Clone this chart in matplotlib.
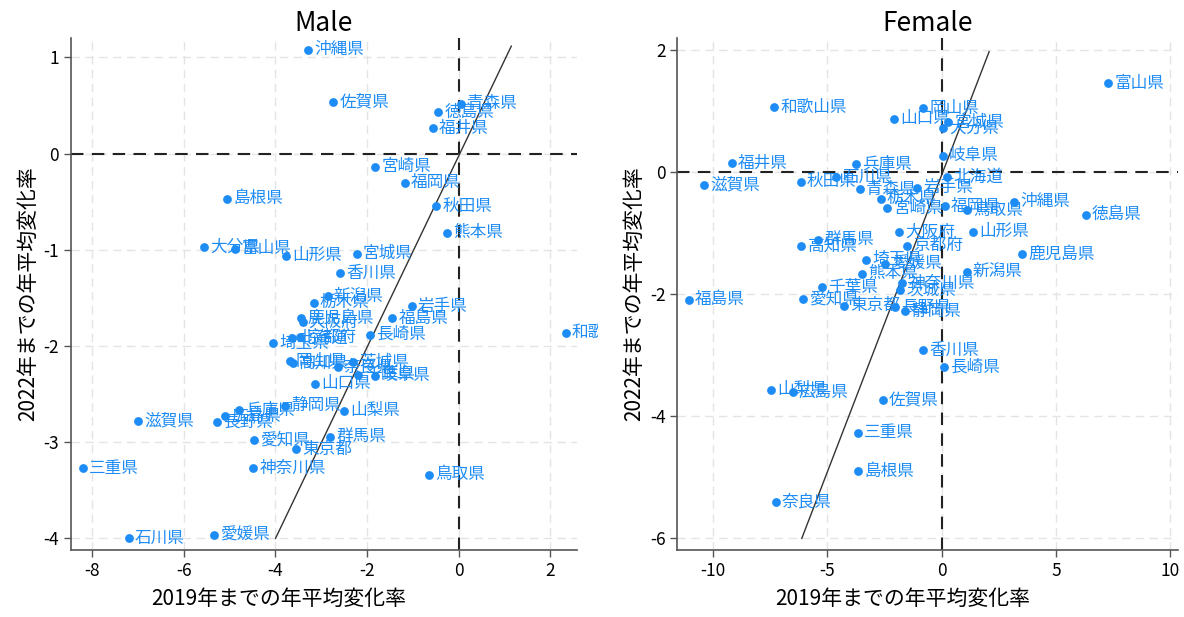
import matplotlib
matplotlib.use("Agg")
import matplotlib.pyplot as plt
from matplotlib.patches import Rectangle

plt.rcParams['font.family'] = ['Noto Sans CJK JP', 'DejaVu Sans']
plt.rcParams['axes.unicode_minus'] = False

# 男性: 2019年まで / 2022年まで の年平均変化率
male_pref = ['沖縄県', '佐賀県', '青森県', '徳島県', '福井県', '宮崎県', '福岡県', '島根県',
             '秋田県', '熊本県', '大分県', '富山県', '山形県', '宮城県', '香川県', '新潟県',
             '栃木県', '岩手県', '福島県', '鹿児島県', '大阪府', '長崎県', '埼玉県', '北海道',
             '京都府', '岡山県', '高知県', '奈良県', '茨城県', '千葉県', '岐阜県', '山口県',
             '静岡県', '兵庫県', '山梨県', '広島県', '長野県', '滋賀県', '愛知県', '群馬県',
             '東京都', '三重県', '神奈川県', '鳥取県', '石川県', '愛媛県', '和歌山県']
male_x = [-3.29, -2.74, 0.045, -0.45, -0.565, -1.82, -1.18, -5.05,
          -0.50, -0.26, -5.56, -4.88, -3.78, -2.23, -2.60, -2.86,
          -3.17, -1.03, -1.45, -3.44, -3.41, -1.94, -4.06, -3.64,
          -3.46, -3.69, -3.62, -2.64, -2.30, -2.19, -1.83, -3.13,
          -3.80, -4.80, -2.51, -5.10, -5.27, -6.99, -4.47, -2.80,
          -3.55, -8.20, -4.49, -0.66, -7.20, -5.35, 2.33]
male_y = [1.08, 0.535, 0.52, 0.43, 0.265, -0.135, -0.30, -0.47,
          -0.545, -0.82, -0.97, -0.99, -1.06, -1.04, -1.24, -1.48,
          -1.55, -1.585, -1.71, -1.71, -1.75, -1.88, -1.97, -1.92,
          -1.91, -2.16, -2.18, -2.22, -2.17, -2.30, -2.31, -2.39,
          -2.62, -2.66, -2.675, -2.73, -2.79, -2.78, -2.98, -2.945,
          -3.07, -3.27, -3.27, -3.34, -4.00, -3.965, -1.86]
male_line_x = [-4.0, 1.145]
male_line_y = [-4.0, 1.118]

# 女性
female_pref = ['富山県', '和歌山県', '岡山県', '山口県', '宮城県', '大分県', '岐阜県', '福井県',
               '兵庫県', '滋賀県', '秋田県', '石川県', '北海道', '青森県', '岩手県', '栃木県',
               '宮崎県', '福岡県', '鳥取県', '沖縄県', '徳島県', '大阪府', '山形県', '群馬県',
               '高知県', '京都府', '鹿児島県', '埼玉県', '愛媛県', '熊本県', '新潟県', '神奈川県',
               '千葉県', '茨城県', '福島県', '愛知県', '東京都', '長野県', '静岡県', '香川県',
               '長崎県', '山梨県', '広島県', '佐賀県', '三重県', '島根県', '奈良県']
female_x = [7.30, -7.33, -0.80, -2.07, 0.28, 0.07, 0.04, -9.18,
            -3.76, -10.38, -6.17, -4.62, 0.25, -3.57, -1.07, -2.67,
            -2.38, 0.14, 1.09, 3.16, 6.31, -1.85, 1.38, -5.41,
            -6.14, -1.53, 3.51, -3.31, -2.46, -3.48, 1.09, -1.72,
            -5.25, -1.82, -11.06, -6.08, -4.29, -2.04, -1.60, -0.82,
            0.10, -7.48, -6.52, -2.57, -3.67, -3.67, -7.26]
female_y = [1.45, 1.06, 1.04, 0.87, 0.82, 0.72, 0.27, 0.14,
            0.136, -0.21, -0.16, -0.08, -0.09, -0.28, -0.26, -0.44,
            -0.59, -0.56, -0.63, -0.49, -0.70, -0.99, -0.975, -1.11,
            -1.205, -1.205, -1.35, -1.44, -1.50, -1.67, -1.63, -1.82,
            -1.89, -1.93, -2.09, -2.08, -2.19, -2.21, -2.28, -2.92,
            -3.19, -3.57, -3.60, -3.74, -4.27, -4.90, -5.40]
female_line_x = [-6.12, 2.08]
female_line_y = [-6.0, 1.97]

blue = '#1e8cf5'

fig = plt.figure(figsize=(11.84, 6.17), dpi=100)
ax1 = fig.add_axes([0.060, 0.1086, 0.427, 0.8294])
ax2 = fig.add_axes([0.572, 0.1086, 0.423, 0.8294])

# ラベルの切り取り範囲 (左パネルの右端)
clip_rect = Rectangle((0, 0), 598 / 1184, 1, transform=fig.transFigure,
                      facecolor='none', edgecolor='none')
fig.add_artist(clip_rect)


def panel(ax, names, xs, ys, lx, ly, title, xlim, ylim, xticks, yticks, xlab_x, clip=None):
    ax.set_xlim(xlim)
    ax.set_ylim(ylim)
    ax.set_xticks(xticks)
    ax.set_yticks(yticks)
    ax.grid(True, color='#e4e4e4', linestyle=(0, (6, 4)), linewidth=1)
    ax.set_axisbelow(True)
    ax.axhline(0, color='#222222', linestyle=(0, (6, 4)), linewidth=1.5, zorder=2)
    ax.axvline(0, color='#222222', linestyle=(0, (6, 4)), linewidth=1.5, zorder=2)
    ax.plot(lx, ly, color='#333333', linewidth=1, zorder=3)
    ax.scatter(xs, ys, s=40, color=blue, zorder=4, linewidths=0)
    for n, x, y in zip(names, xs, ys):
        t = ax.annotate(n, (x, y), xytext=(4.5, 0), textcoords='offset points',
                        va='center', ha='left', color=blue, fontsize=12, zorder=5,
                        annotation_clip=False)
        if clip is not None:
            t.set_clip_path(clip)
        else:
            t.set_clip_on(False)
    for s in ['top', 'right']:
        ax.spines[s].set_visible(False)
    for s in ['left', 'bottom']:
        ax.spines[s].set_color('#555555')
        ax.spines[s].set_linewidth(1.2)
    ax.tick_params(direction='out', length=5, width=1, color='#555555', labelsize=12.5)
    ax.set_title(title, fontsize=19, pad=5)
    ax.set_xlabel('2019年までの年平均変化率', fontsize=15)
    ax.xaxis.set_label_coords(xlab_x, -0.075)
    ax.set_ylabel('2022年までの年平均変化率', fontsize=15, labelpad=3)


panel(ax1, male_pref, male_x, male_y, male_line_x, male_line_y, 'Male',
      (-8.46, 2.57), (-4.12, 1.2), [-8, -6, -4, -2, 0, 2], [-4, -3, -2, -1, 0, 1],
      0.41, clip=clip_rect)
panel(ax2, female_pref, female_x, female_y, female_line_x, female_line_y, 'Female',
      (-11.57, 10.35), (-6.19, 2.19), [-10, -5, 0, 5, 10], [-6, -4, -2, 0, 2],
      0.45)

fig.savefig('out.png', dpi=100)
